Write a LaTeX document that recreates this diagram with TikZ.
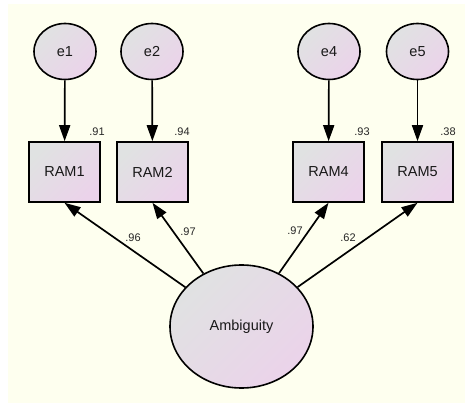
\documentclass[tikz,border=0pt]{standalone}
\usepackage{fontspec}
\setmainfont{Liberation Sans}
\usetikzlibrary{arrows.meta,shapes.geometric}
\definecolor{ivory}{HTML}{FEFFEF}
\definecolor{amosgrey}{HTML}{E0E2E2}
\definecolor{amospink}{HTML}{EBD3EA}
\tikzset{
  var/.style={draw,line width=1.6pt,top color=amosgrey,bottom color=amospink,shading angle=45,
    font=\fontsize{14.5}{16}\selectfont,text=black!90,inner sep=0pt},
  obs/.style={var,rectangle,minimum width=71pt,minimum height=60pt},
  err/.style={var,ellipse,minimum width=62pt,minimum height=56pt},
  lat/.style={var,ellipse,minimum width=143pt,minimum height=123pt},
  val/.style={font=\fontsize{11}{12}\selectfont,text=black!85,inner sep=0pt},
  path/.style={line width=1.7pt,-{Triangle[length=16pt,width=11pt]}}
}
\begin{document}
\begin{tikzpicture}[x=1pt,y=-1pt]
\useasboundingbox (0,0) rectangle (465,403);
\fill[ivory] (8,4) rectangle (465,403);

\node[err] (e1) at (65,51.5) {e1};
\node[err] (e2) at (152,51.5) {e2};
\node[err] (e4) at (329,51.5) {e4};
\node[err] (e5) at (417.5,51.5) {e5};

\node[obs] (ram1) at (64.5,172) {RAM1};
\node[obs] (ram2) at (152.5,172) {RAM2};
\node[obs] (ram4) at (328.5,172) {RAM4};
\node[obs] (ram5) at (417.5,172) {RAM5};

\node[lat] (amb) at (241.5,326.5) {Ambiguity};

\draw[path] (e1) -- (ram1);
\draw[path] (e2) -- (ram2);
\draw[path] (e4) -- (ram4);
\draw[path] (e5) -- (ram5);

\draw[path] (amb) -- (ram1.south);
\draw[path] (amb) -- (ram2.south);
\draw[path] (amb) -- (ram4.south);
\draw[path] (amb) -- (ram5.south);

\node[val] (r1) at (97,132) {.91};
\node[val] (r2) at (182,132) {.94};
\node[val] (r4) at (362,132) {.93};
\node[val] (r5) at (448,132) {.38};

\node[val] (l1) at (133,238) {.96};
\node[val] (l2) at (188,232) {.97};
\node[val] (l4) at (295,231) {.97};
\node[val] (l5) at (348,238) {.62};
\end{tikzpicture}
\end{document}
